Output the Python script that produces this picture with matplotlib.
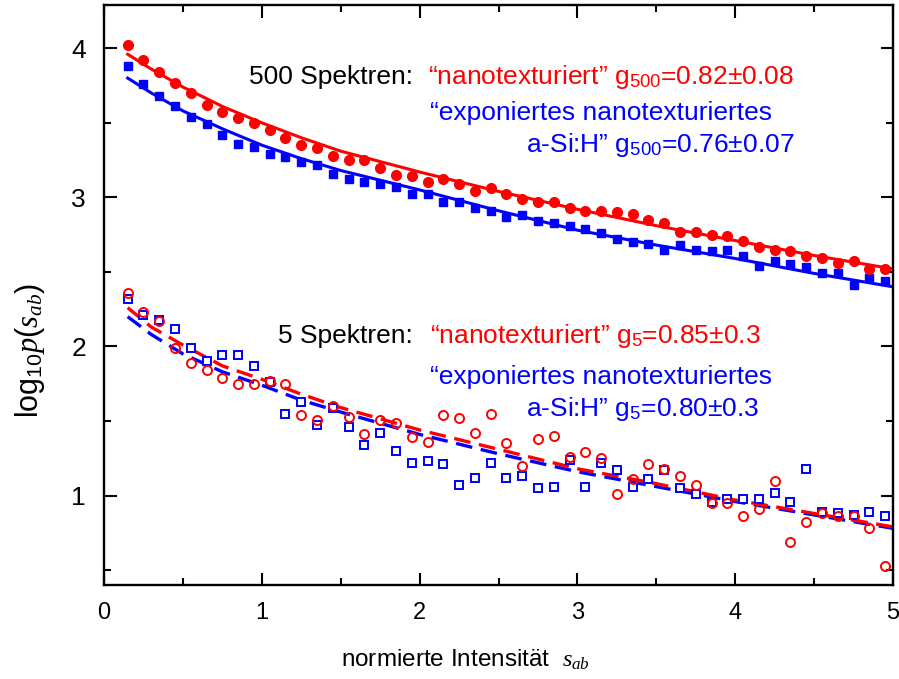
import matplotlib
matplotlib.use('Agg')
import matplotlib.pyplot as plt

plt.rcParams['font.family'] = ['Liberation Sans', 'DejaVu Sans']
plt.rcParams['mathtext.fontset'] = 'custom'
plt.rcParams['mathtext.rm'] = 'Liberation Sans'
plt.rcParams['mathtext.it'] = 'Liberation Serif:italic'

# normierte Intensitaet (bin centres)
s = [0.15, 0.25, 0.35, 0.45, 0.55, 0.65, 0.75, 0.85, 0.95, 1.05,
     1.15, 1.25, 1.35, 1.45, 1.55, 1.65, 1.75, 1.85, 1.95, 2.05,
     2.15, 2.25, 2.35, 2.45, 2.55, 2.65, 2.75, 2.85, 2.95, 3.05,
     3.15, 3.25, 3.35, 3.45, 3.55, 3.65, 3.75, 3.85, 3.95, 4.05,
     4.15, 4.25, 4.35, 4.45, 4.55, 4.65, 4.75, 4.85, 4.95]

# 500 Spektren
red_500 = [4.02, 3.92, 3.84, 3.77, 3.70, 3.62, 3.57, 3.53, 3.50, 3.45,
           3.40, 3.35, 3.33, 3.28, 3.25, 3.25, 3.20, 3.15, 3.14, 3.10,
           3.12, 3.09, 3.04, 3.06, 3.02, 2.99, 2.97, 2.97, 2.93, 2.91,
           2.91, 2.90, 2.89, 2.85, 2.83, 2.77, 2.77, 2.75, 2.74, 2.71,
           2.67, 2.65, 2.64, 2.61, 2.59, 2.56, 2.57, 2.52, 2.52]
blue_500 = [3.88, 3.76, 3.68, 3.61, 3.54, 3.49, 3.42, 3.36, 3.34, 3.29,
            3.27, 3.24, 3.22, 3.16, 3.12, 3.10, 3.09, 3.07, 3.02, 3.02,
            2.97, 2.97, 2.93, 2.91, 2.87, 2.88, 2.84, 2.83, 2.81, 2.79,
            2.76, 2.72, 2.70, 2.69, 2.65, 2.68, 2.65, 2.64, 2.65, 2.61,
            2.54, 2.57, 2.55, 2.53, 2.49, 2.49, 2.41, 2.46, 2.44]

# 5 Spektren
red_5 = [2.36, 2.23, 2.17, 1.99, 1.89, 1.84, 1.79, 1.75, 1.75, 1.77,
         1.75, 1.54, 1.51, 1.60, 1.53, 1.41, 1.51, 1.49, 1.39, 1.36,
         1.54, 1.52, 1.42, 1.55, 1.35, 1.20, 1.38, 1.40, 1.26, 1.29,
         1.25, 1.01, 1.11, 1.21, 1.18, 1.13, 1.07, 0.95, 0.95, 0.86,
         0.91, 1.10, 0.69, 0.82, 0.88, 0.86, 0.86, 0.78, 0.53]
blue_5 = [2.32, 2.21, 2.18, 2.12, 1.99, 1.90, 1.94, 1.94, 1.87, 1.76,
          1.55, 1.63, 1.47, 1.59, 1.46, 1.34, 1.42, 1.30, 1.22, 1.23,
          1.21, 1.07, 1.12, 1.22, 1.12, 1.13, 1.05, 1.06, 1.24, 1.06,
          1.22, 1.17, 1.06, 1.11, 1.17, 1.05, 1.01, 0.96, 0.98, 0.98,
          0.98, 1.02, 0.96, 1.18, 0.89, 0.88, 0.87, 0.89, 0.86]

# Anpassungen
fit_s = [0.15, 0.3, 0.5, 0.75, 1.0, 1.25, 1.5, 2.0, 2.5, 3.0, 3.5, 4.0, 4.5, 5.0]
fit_red_500 = [3.96, 3.86, 3.74, 3.61, 3.50, 3.40, 3.31, 3.17, 3.04, 2.92, 2.81, 2.71, 2.61, 2.52]
fit_blue_500 = [3.80, 3.70, 3.58, 3.46, 3.35, 3.26, 3.18, 3.05, 2.91, 2.78, 2.68, 2.59, 2.49, 2.40]
fit_red_5 = [2.26, 2.13, 2.01, 1.87, 1.78, 1.68, 1.59, 1.44, 1.31, 1.18, 1.08, 0.97, 0.88, 0.79]
fit_blue_5 = [2.20, 2.08, 1.95, 1.83, 1.74, 1.64, 1.56, 1.41, 1.28, 1.16, 1.06, 0.96, 0.87, 0.78]

RED = '#ff0000'
BLUE = '#0000ff'

fig = plt.figure(figsize=(8.99, 6.79), dpi=100)
ax = fig.add_axes([0.1157, 0.1384, 0.8777, 0.8542])

# 5 Spektren: open markers + dashed fits
ax.plot(fit_s, fit_blue_5, color=BLUE, lw=2.4, dashes=(5, 2.6))
ax.plot(fit_s, fit_red_5, color=RED, lw=2.4, dashes=(5, 2.6))
ax.plot(s, blue_5, ls='none', marker='s', ms=5.5, mfc='white', mec=BLUE, mew=1.4)
ax.plot(s, red_5, ls='none', marker='o', ms=6.5, mfc='none', mec=RED, mew=1.4)

# 500 Spektren: filled markers + solid fits
ax.plot(fit_s, fit_blue_500, color=BLUE, lw=2.2)
ax.plot(fit_s, fit_red_500, color=RED, lw=2.2)
ax.plot(s, blue_500, ls='none', marker='s', ms=6, color=BLUE)
ax.plot(s, red_500, ls='none', marker='o', ms=7, color=RED)

ax.set_xlim(0, 5)
ax.set_ylim(0.4, 4.29)
ax.set_xticks([0, 1, 2, 3, 4, 5])
ax.set_xticks([0.5, 1.5, 2.5, 3.5, 4.5], minor=True)
ax.set_yticks([1, 2, 3, 4])
ax.set_yticks([0.5, 1.5, 2.5, 3.5], minor=True)
ax.tick_params(which='both', direction='in', top=True, right=True, width=1.5)
ax.tick_params(which='major', length=9)
ax.tick_params(which='minor', length=5)
ax.tick_params(axis='x', labelsize=17, pad=12)
ax.tick_params(axis='y', labelsize=19, pad=13)
for sp in ax.spines.values():
    sp.set_linewidth(1.7)

ax.set_ylabel(r'$\mathrm{log}_{10}p(s_{ab})$', fontsize=22, va='center', ha='center')
ax.yaxis.set_label_coords(-0.094, 0.405)
ax.set_xlabel(r'normierte Intensität  $s_{ab}$', fontsize=17.5, va='center', ha='center')
ax.xaxis.set_label_coords(0.4575, -0.129)

fs = 19
ax.text(2.006, 3.76, '500 Spektren: ', ha='right', va='baseline', fontsize=fs, color='black')
ax.text(2.05, 3.76, '“nanotexturiert” g$_{500}$=0.82±0.08', ha='left', va='baseline', fontsize=fs, color=RED)
ax.text(2.063, 3.52, '“exponiertes nanotexturiertes', ha='left', va='baseline', fontsize=fs, color=BLUE)
ax.text(2.677, 3.305, 'a-Si:H” g$_{500}$=0.76±0.07', ha='left', va='baseline', fontsize=fs, color=BLUE)

ax.text(2.006, 2.025, '5 Spektren: ', ha='right', va='baseline', fontsize=fs, color='black')
ax.text(2.063, 2.025, '“nanotexturiert” g$_5$=0.85±0.3', ha='left', va='baseline', fontsize=fs, color=RED)
ax.text(2.063, 1.75, '“exponiertes nanotexturiertes', ha='left', va='baseline', fontsize=fs, color=BLUE)
ax.text(2.677, 1.535, 'a-Si:H” g$_5$=0.80±0.3', ha='left', va='baseline', fontsize=fs, color=BLUE)

fig.savefig('out.png', dpi=100)
